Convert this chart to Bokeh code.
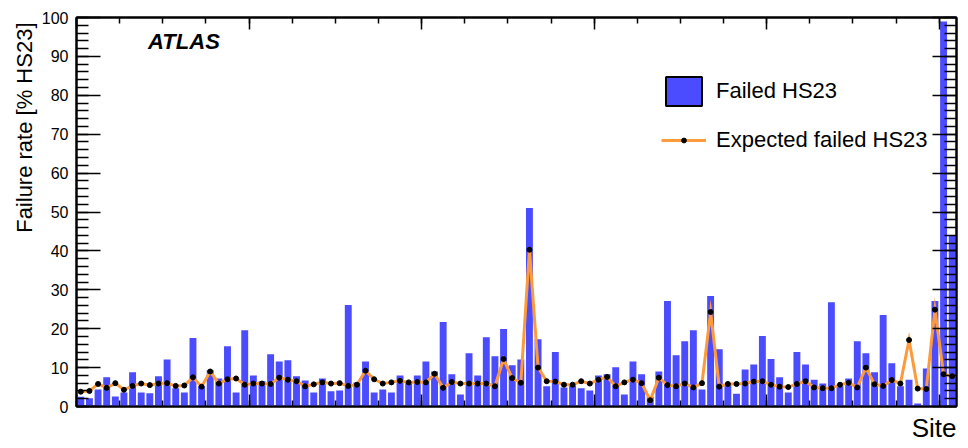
from bokeh.plotting import figure
from bokeh.models import (Range1d, LinearAxis, SingleIntervalTicker, Legend, LegendItem,
                          Label, Title, ColumnDataSource)
from bokeh.embed import file_html
from bokeh.resources import INLINE

# ---- data ----
failed = [2.5, 2.1, 4.4, 7.5, 2.6, 3.6, 8.8, 3.6, 3.4, 7.8,
          12.1, 4.7, 3.6, 17.6, 5.2, 9.3, 7.2, 15.5, 3.6, 19.6,
          8.0, 6.5, 13.4, 11.6, 11.9, 7.8, 6.7, 3.6, 7.2, 3.9,
          4.1, 26.1, 6.2, 11.6, 3.6, 4.4, 3.6, 8.0, 6.2, 8.0,
          11.6, 9.0, 21.7, 8.3, 3.1, 13.7, 8.0, 17.8, 12.9, 19.9,
          10.6, 12.1, 51.0, 17.3, 5.2, 14.0, 4.9, 5.4, 4.7, 4.1,
          8.0, 8.3, 10.1, 3.1, 11.6, 8.3, 2.5, 9.0, 27.1, 13.2,
          16.8, 19.6, 4.4, 28.4, 14.7, 5.7, 3.3, 9.5, 10.8, 18.1,
          12.2, 7.5, 3.6, 14.0, 10.8, 6.9, 5.9, 26.8, 5.2, 7.2,
          16.8, 13.7, 8.8, 23.5, 11.1, 5.2, 6.9, 0.8, 9.8, 27.1,
          99.0, 44.0]
expected = [3.8, 4.0, 5.8, 4.8, 6.0, 4.3, 5.3, 5.9, 5.5, 5.9,
            6.0, 5.3, 5.4, 7.5, 5.1, 9.0, 5.9, 7.0, 7.2, 5.6,
            5.9, 5.9, 5.8, 7.4, 6.9, 6.5, 5.2, 5.7, 6.2, 5.9,
            6.0, 5.3, 5.6, 9.2, 7.0, 5.9, 6.2, 6.6, 6.2, 6.3,
            6.2, 8.4, 4.8, 6.3, 5.9, 5.9, 5.9, 5.9, 5.2, 12.2,
            7.3, 6.1, 40.3, 10.0, 6.5, 6.4, 5.6, 5.6, 6.5, 5.9,
            6.9, 7.6, 5.2, 6.2, 6.9, 6.0, 1.6, 7.4, 5.5, 5.2,
            5.9, 4.9, 6.0, 24.3, 5.1, 5.8, 5.8, 5.9, 6.4, 6.5,
            5.6, 5.1, 5.0, 5.8, 6.5, 4.9, 4.7, 4.7, 5.6, 6.1,
            4.9, 10.0, 5.7, 5.3, 6.8, 5.9, 17.1, 4.6, 4.5, 24.9,
            8.3, 7.8]
sites = list(range(1, len(failed) + 1))

centers = [s - 0.5 for s in sites]
src = ColumnDataSource(dict(x=centers, failed=failed, expected=expected))

FONT = "Liberation Sans"
BLUE = "#4b4bff"
ORANGE = "#fd9a3c"

p = figure(width=968, height=448, output_backend="svg", toolbar_location=None,
           x_range=Range1d(0, len(sites)), y_range=Range1d(0, 100),
           min_border_left=76, min_border_right=12, min_border_top=17, min_border_bottom=42,
           x_axis_location=None, y_axis_location=None)
p.background_fill_color = "white"
p.border_fill_color = "white"
p.outline_line_color = "black"
p.outline_line_width = 2
p.xgrid.visible = False
p.ygrid.visible = False

p.vbar(x="x", top="failed", bottom=0, width=0.8, source=src,
       fill_color=BLUE, line_color=None)
ln = p.line(x="x", y="expected", source=src, line_color=ORANGE, line_width=3,
            line_join="miter")
dots = p.scatter(x="x", y="expected", source=src, size=5, color="black")
# legend proxy (outside the visible range)
proxy = p.vbar(x=[-50], top=[0], width=0.8, fill_color=BLUE, line_color="black", line_width=2)


def style_axis(ax, major_len, minor_len, show_labels):
    ax.major_tick_in = major_len
    ax.major_tick_out = 0
    ax.minor_tick_in = minor_len
    ax.minor_tick_out = 0
    ax.major_tick_line_width = 1.5
    ax.minor_tick_line_width = 1.5
    ax.major_tick_line_color = "black"
    ax.minor_tick_line_color = "black"
    ax.axis_line_color = "black"
    ax.axis_line_width = 2
    if show_labels:
        ax.major_label_text_font = FONT
        ax.major_label_text_font_size = "16px"
        ax.major_label_text_color = "black"
        ax.major_label_standoff = 8
    else:
        ax.major_label_text_font_size = "1px"
        ax.major_label_text_color = None
        ax.major_label_standoff = 0


yl = LinearAxis(ticker=SingleIntervalTicker(interval=10, num_minor_ticks=5))
style_axis(yl, 24, 12, True)
p.add_layout(yl, "left")

yr = LinearAxis(ticker=SingleIntervalTicker(interval=10, num_minor_ticks=5))
style_axis(yr, 24, 12, False)
p.add_layout(yr, "right")

xb = LinearAxis(ticker=SingleIntervalTicker(interval=20, num_minor_ticks=4))
style_axis(xb, 12, 6, False)
p.add_layout(xb, "below")

xt = LinearAxis(ticker=SingleIntervalTicker(interval=20, num_minor_ticks=4))
style_axis(xt, 12, 6, False)
p.add_layout(xt, "above")

# axis titles (ROOT style: aligned to the end of the axes)
p.add_layout(Title(text="Failure rate [% HS23]", align="right", text_font=FONT,
                   text_font_size="22px", text_font_style="normal",
                   text_color="black", standoff=4, offset=5), "left")
p.add_layout(Title(text="Site", align="right", text_font=FONT,
                   text_font_size="26px", text_font_style="normal",
                   text_color="black", standoff=8), "below")

# ATLAS label
p.add_layout(Label(x=8.3, y=93.8, text="ATLAS", text_font=FONT,
                   text_font_style="bold italic", text_font_size="22px",
                   text_baseline="middle", text_color="black"))

leg1 = Legend(items=[LegendItem(label="Failed HS23", renderers=[proxy])],
              location=(585, 297), glyph_width=45, glyph_height=36,
              padding=0, margin=0, label_standoff=10, border_line_color=None,
              background_fill_alpha=0, label_text_font=FONT,
              label_text_font_size="22px", label_text_color="black")
leg2 = Legend(items=[LegendItem(label="Expected failed HS23", renderers=[ln, dots])],
              location=(585, 253), glyph_width=45, glyph_height=12, label_height=26,
              padding=0, margin=0, label_standoff=10, border_line_color=None,
              background_fill_alpha=0, label_text_font=FONT,
              label_text_font_size="22px", label_text_color="black")
p.add_layout(leg1)
p.add_layout(leg2)

open("out.html", "w").write(file_html(p, INLINE))
